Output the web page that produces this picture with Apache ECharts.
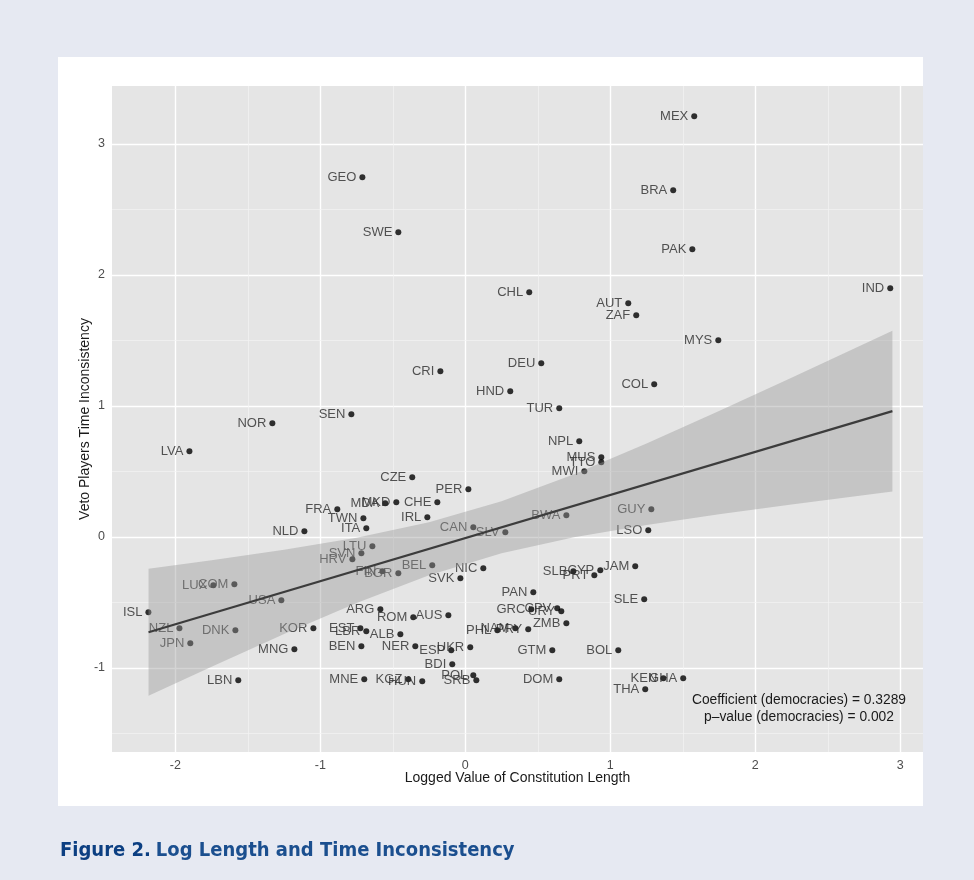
<!DOCTYPE html>
<html><head><meta charset="utf-8">
<script src="https://cdn.jsdelivr.net/npm/echarts@6/dist/echarts.min.js"></script>
<style>
html,body{margin:0;padding:0;background:#e6e9f2;}
#panel{position:absolute;left:58px;top:57px;width:865px;height:749px;background:#ffffff;}
#chart{position:absolute;left:0;top:0;width:974px;height:880px;}
</style></head><body>
<div id="panel"></div><div id="chart"></div>
<script>
const countries = ["MEX","GEO","SWE","BRA","PAK","CHL","AUT","ZAF","IND","MYS","CRI","DEU","HND","COL","TUR","SEN","NOR","LVA","NPL","MUS","TTO","MWI","CZE","PER","CHE","MKD","MDA","FRA","TWN","ITA","NLD","IRL","CAN","SLV","BWA","GUY","LSO","LTU","SVN","HRV","FIN","BGR","LUX","COM","USA","ISL","NZL","DNK","JPN","KOR","MNG","LBN","MNE","EST","LBR","BEN","ARG","ALB","ROM","AUS","NER","ESP","UKR","BDI","POL","SRB","KGZ","HUN","BEL","SVK","NIC","PAN","GRC","CPV","URY","ZMB","PHL","NAM","PRY","GTM","DOM","SLB","CYP","PRT","JAM","SLE","BOL","KEN","GHA","THA"];
const lengthX = [1.579,-0.710,-0.462,1.434,1.566,0.441,1.124,1.179,2.931,1.745,-0.172,0.524,0.310,1.303,0.648,-0.786,-1.331,-1.903,0.786,0.938,0.938,0.821,-0.366,0.021,-0.193,-0.476,-0.552,-0.883,-0.703,-0.683,-1.110,-0.262,0.055,0.276,0.697,1.283,1.262,-0.641,-0.717,-0.779,-0.572,-0.462,-1.738,-1.593,-1.269,-2.186,-1.972,-1.586,-1.897,-1.048,-1.179,-1.566,-0.697,-0.724,-0.683,-0.717,-0.586,-0.448,-0.359,-0.117,-0.345,-0.097,0.034,-0.090,0.055,0.076,-0.393,-0.297,-0.228,-0.034,0.124,0.469,0.455,0.634,0.662,0.697,0.221,0.345,0.434,0.600,0.648,0.745,0.931,0.890,1.172,1.234,1.055,1.366,1.503,1.241];
const vetoY = [3.210,2.744,2.324,2.645,2.195,1.866,1.782,1.691,1.897,1.500,1.263,1.324,1.111,1.164,0.981,0.935,0.866,0.653,0.729,0.607,0.569,0.500,0.454,0.363,0.263,0.263,0.256,0.210,0.141,0.065,0.042,0.149,0.073,0.034,0.164,0.210,0.050,-0.073,-0.126,-0.172,-0.263,-0.279,-0.370,-0.363,-0.485,-0.576,-0.698,-0.714,-0.813,-0.698,-0.859,-1.096,-1.088,-0.698,-0.721,-0.836,-0.553,-0.744,-0.615,-0.599,-0.836,-0.866,-0.844,-0.973,-1.057,-1.096,-1.088,-1.103,-0.218,-0.317,-0.240,-0.424,-0.553,-0.546,-0.569,-0.660,-0.714,-0.698,-0.706,-0.866,-1.088,-0.263,-0.256,-0.294,-0.225,-0.477,-0.866,-1.080,-1.080,-1.164];
const fitX = [-2.185, 2.946];
const fitY = [-0.729, 0.959];
const bandX = [-2.185,-1.75,-1.25,-0.75,-0.25,0.25,0.75,1.25,1.75,2.25,2.946];
const bandUpper = [-0.244,-0.180,-0.099,-0.008,0.110,0.271,0.478,0.712,0.960,1.214,1.573];
const bandLower = [-1.213,-0.992,-0.743,-0.506,-0.294,-0.126,-0.004,0.090,0.172,0.247,0.345];
const xTicks = [-2,-1,0,1,2,3];
const yTicks = [-1,0,1,2,3];
const xMinorGrid = [-1.5,-0.5,0.5,1.5,2.5];
const yMinorGrid = [-1.5,-0.5,0.5,1.5,2.5];

const FONT = 'Liberation Sans';
const TITLE_FONT = '"DejaVu Sans Condensed", "Liberation Sans Narrow", "Liberation Sans"';
const chart = echarts.init(document.getElementById('chart'), null, {renderer:'canvas'});

const gridLines = [];
xTicks.forEach(v => gridLines.push({xAxis: v, lineStyle:{color:'#ffffff', width:1.4, type:'solid'}}));
yTicks.forEach(v => gridLines.push({yAxis: v, lineStyle:{color:'#ffffff', width:1.4, type:'solid'}}));
xMinorGrid.forEach(v => gridLines.push({xAxis: v, lineStyle:{color:'#f3f3f3', width:0.7, type:'solid'}}));
yMinorGrid.forEach(v => gridLines.push({yAxis: v, lineStyle:{color:'#f3f3f3', width:0.7, type:'solid'}}));

chart.setOption({
  animation: false,
  backgroundColor: 'transparent',
  title: {
    left: 60, top: 841, padding: 0,
    text: '{a|Figure 2.} {b|Log Length and Time Inconsistency}',
    textStyle: {
      rich: {
        a: {fontFamily:TITLE_FONT, fontWeight:'bold', fontSize:20, color:'#0c3f82'},
        b: {fontFamily:TITLE_FONT, fontWeight:'bold', fontSize:20, color:'#1b4f8f'}
      }
    }
  },
  grid: {left:112, right:51, top:86, bottom:128, show:true, backgroundColor:'#e5e5e5', borderWidth:0},
  xAxis: {
    type:'value', min:-2.437, max:3.157,
    splitLine:{show:false},
    axisLine:{show:false},
    axisTick:{show:true, customValues:xTicks, length:4, lineStyle:{color:'#333333', width:1}},
    axisLabel:{customValues:xTicks, margin:7, color:'#4d4d4d', fontSize:12.5, fontFamily:FONT},
    name:'Logged Value of Constitution Length', nameLocation:'middle', nameGap:19, nameMoveOverlap:false,
    nameTextStyle:{fontSize:14, color:'#1a1a1a', fontFamily:FONT, verticalAlign:'top'}
  },
  yAxis: {
    type:'value', min:-1.643, max:3.441,
    splitLine:{show:false},
    axisLine:{show:false},
    axisTick:{show:true, customValues:yTicks, length:4, lineStyle:{color:'#333333', width:1}},
    axisLabel:{customValues:yTicks, margin:7, color:'#4d4d4d', fontSize:12.5, fontFamily:FONT},
    name:'Veto Players Time Inconsistency', nameLocation:'middle', nameGap:20, nameMoveOverlap:false,
    nameTextStyle:{fontSize:14, color:'#1a1a1a', fontFamily:FONT}
  },
  graphic: [
    {type:'text', z:50, x:799, y:700, style:{text:'Coefficient (democracies) = 0.3289', fill:'#1a1a1a', font:'13.8px "Liberation Sans"', textAlign:'center', textVerticalAlign:'middle'}},
    {type:'text', z:50, x:799, y:717, style:{text:'p\u2013value (democracies) = 0.002', fill:'#1a1a1a', font:'13.8px "Liberation Sans"', textAlign:'center', textVerticalAlign:'middle'}}
  ],
  series: [
    {
      type:'line', data:[], z:1, silent:true,
      markLine:{z:1, silent:true, symbol:['none','none'], label:{show:false}, data:gridLines, animation:false}
    },
    {
      type:'scatter', z:2,
      data: countries.map((c,i)=>({name:c, value:[lengthX[i], vetoY[i]]})),
      symbolSize:6, itemStyle:{color:'#000000'},
      label:{show:true, formatter:'{b}', position:'left', distance:3, color:'#2a2a2a', fontSize:13, fontFamily:FONT, textBorderWidth:0, textBorderColor:'transparent'}
    },
    {
      type:'custom', z:3, silent:true,
      data:[[bandX[0], bandUpper[0]]],
      renderItem:(params, api) => {
        const pts = [];
        for (let i=0;i<bandX.length;i++) pts.push(api.coord([bandX[i], bandUpper[i]]));
        for (let i=bandX.length-1;i>=0;i--) pts.push(api.coord([bandX[i], bandLower[i]]));
        return {type:'polygon', shape:{points:pts}, style:{fill:'rgba(153,153,153,0.42)'}};
      }
    },
    {
      type:'line', z:4, silent:true, showSymbol:false,
      data: fitX.map((x,i)=>[x, fitY[i]]),
      lineStyle:{color:'#3c3c3c', width:2.2}
    }
  ]
});
</script></body></html>
